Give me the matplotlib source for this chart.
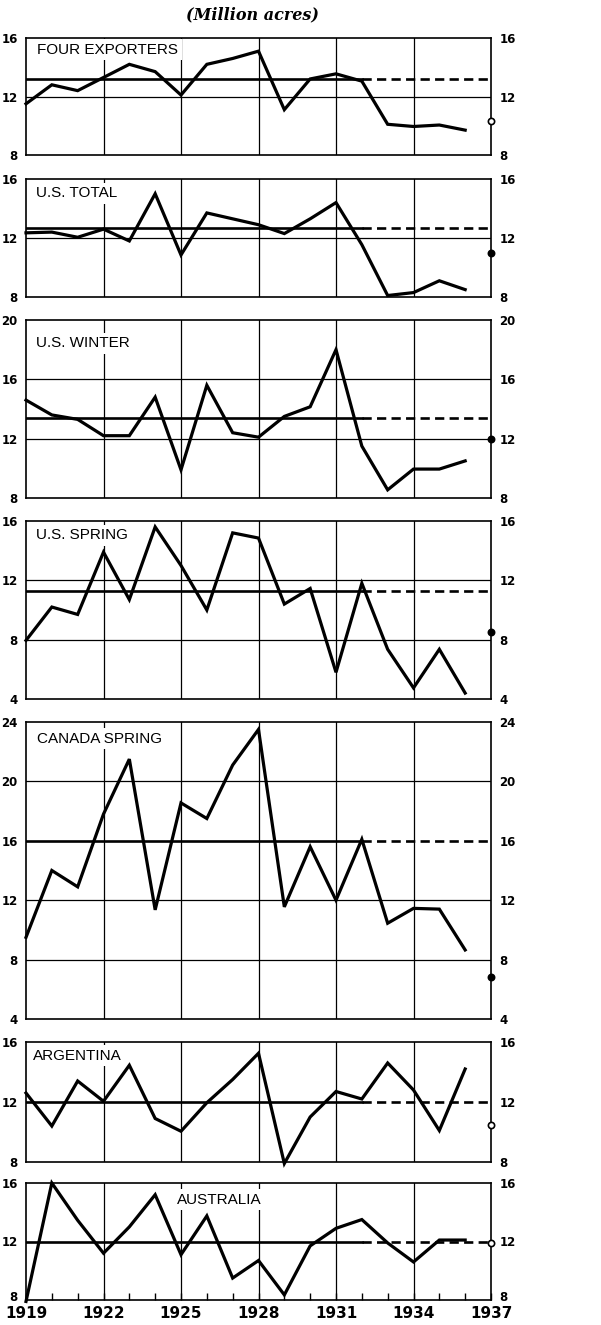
import matplotlib
matplotlib.use("Agg")
import matplotlib.pyplot as plt
from matplotlib.transforms import ScaledTranslation

years = list(range(1919, 1937))

panel_names = ["FOUR EXPORTERS", "U.S. TOTAL", "U.S. WINTER", "U.S. SPRING",
               "CANADA SPRING", "ARGENTINA", "AUSTRALIA"]

four_exporters = [11.5, 12.8, 12.4, 13.3, 14.2, 13.7, 12.1, 14.2, 14.6, 15.1,
                  11.1, 13.2, 13.55, 13.05, 10.1, 9.95, 10.05, 9.7]
us_total = [12.35, 12.4, 12.05, 12.6, 11.8, 15.0, 10.85, 13.7, 13.3, 12.9,
            12.3, 13.3, 14.4, 11.55, 8.1, 8.3, 9.1, 8.5]
us_winter = [14.6, 13.6, 13.3, 12.2, 12.2, 14.8, 9.9, 15.6, 12.4, 12.1,
             13.5, 14.15, 18.0, 11.5, 8.55, 9.95, 9.95, 10.5]
us_spring = [7.95, 10.2, 9.7, 13.9, 10.7, 15.6, 13.0, 10.0, 15.2, 14.85,
             10.4, 11.45, 5.8, 11.8, 7.35, 4.75, 7.35, 4.4]
canada_spring = [9.5, 14.0, 12.9, 17.8, 21.5, 11.35, 18.55, 17.5, 21.1, 23.5,
                 11.55, 15.6, 12.0, 16.1, 10.45, 11.45, 11.4, 8.65]
argentina = [12.6, 10.4, 13.4, 12.05, 14.45, 10.9, 10.05, 11.95, 13.5, 15.25,
             7.9, 11.0, 12.7, 12.2, 14.6, 12.8, 10.1, 14.2]
australia = [7.9, 16.0, 13.45, 11.2, 13.0, 15.2, 11.1, 13.75, 9.5, 10.7,
             8.35, 11.7, 12.9, 13.5, 11.9, 10.6, 12.1, 12.1]

series = [four_exporters, us_total, us_winter, us_spring,
          canada_spring, argentina, australia]

averages = [13.2, 12.7, 13.4, 11.3, 16.0, 12.0, 12.0]
value_1937 = [10.3, 11.0, 12.0, 8.5, 6.85, 10.5, 11.9]
filled_1937 = [False, True, True, True, True, False, False]

y_ranges = [(8, 16), (8, 16), (8, 20), (4, 16), (4, 24), (8, 16), (8, 16)]

grid_years = [1922, 1925, 1928, 1931, 1934]
year_labels = [1919, 1922, 1925, 1928, 1931, 1934, 1937]
avg_split_year = 1932

# layout (pixels)
W, H = 601, 1325
left_px, right_px = 26, 491
panel_px = [(38, 155), (179, 297), (320, 498), (521, 699),
            (722, 1019), (1042, 1162), (1183, 1300)]
label_pos = [(0.024, 0.90), (0.022, 0.88), (0.022, 0.87), (0.022, 0.92),
             (0.024, 0.943), (0.015, 0.886), (0.325, 0.855)]

fig = plt.figure(figsize=(W / 100, H / 100), dpi=100)
fig.patch.set_facecolor("white")

fig.text((left_px + right_px) / 2 / W - 0.01, 1 - 15 / H, "(Million acres)",
         ha="center", va="center", fontsize=11.5, family="DejaVu Serif",
         style="italic", weight="bold")

n = len(series)
for i in range(n):
    top, bot = panel_px[i]
    ax = fig.add_axes([left_px / W, 1 - bot / H, (right_px - left_px) / W,
                       (bot - top) / H])
    lo, hi = y_ranges[i]
    avg = averages[i]
    ax.set_xlim(1919, 1937)
    ax.set_ylim(lo, hi)
    ticks = list(range(lo, hi + 1, 4))
    ax.set_yticks(ticks)
    ax.set_yticklabels([str(t) for t in ticks])
    ax.tick_params(axis="y", length=0, labelleft=True, labelright=True,
                   pad=6, labelsize=8.5)
    for lab in ax.get_yticklabels(which="both"):
        lab.set_fontweight("bold")
    for t in ticks[1:-1]:
        if abs(t - avg) > 1e-9:
            ax.axhline(t, color="black", lw=0.9, zorder=1)
    for gy in grid_years:
        ax.axvline(gy, color="black", lw=0.9, zorder=1)
    for sp in ax.spines.values():
        sp.set_linewidth(1.2)

    ax.plot([1919, avg_split_year], [avg, avg], color="black", lw=1.9, zorder=2)
    ax.plot([avg_split_year, 1937], [avg, avg], color="black", lw=1.9,
            ls=(0, (3.5, 2)), zorder=2)

    ax.plot(years, series[i], color="black", lw=2.3, zorder=4, clip_on=False,
            solid_joinstyle="miter")

    ax.plot([1937], [value_1937[i]], "o", ms=4.5,
            mfc="black" if filled_1937[i] else "white", mec="black", mew=1.2,
            clip_on=False, zorder=5)

    lx, ly = label_pos[i]
    ax.text(lx, ly, panel_names[i], transform=ax.transAxes, ha="left",
            va="center", fontsize=11, family="Liberation Sans",
            bbox=dict(facecolor="white", edgecolor="none", pad=2.5), zorder=3)

    if i == n - 1:
        ax.set_xticks(list(range(1919, 1938)))
        ax.set_xticklabels([str(y) if y in year_labels else "" for y in range(1919, 1938)])
        ax.tick_params(axis="x", direction="in", length=5, width=1.0,
                       labelsize=11, pad=4)
        for lab in ax.get_xticklabels():
            lab.set_fontweight("bold")
        # raise the bottom "8" labels slightly so they sit above the years
        up = ScaledTranslation(0, 4 / 100, fig.dpi_scale_trans)
        for tk in ax.yaxis.get_major_ticks()[:1]:
            tk.label1.set_transform(tk.label1.get_transform() + up)
            tk.label2.set_transform(tk.label2.get_transform() + up)
    else:
        ax.set_xticks([])

fig.savefig("out.png", dpi=100, facecolor="white")
